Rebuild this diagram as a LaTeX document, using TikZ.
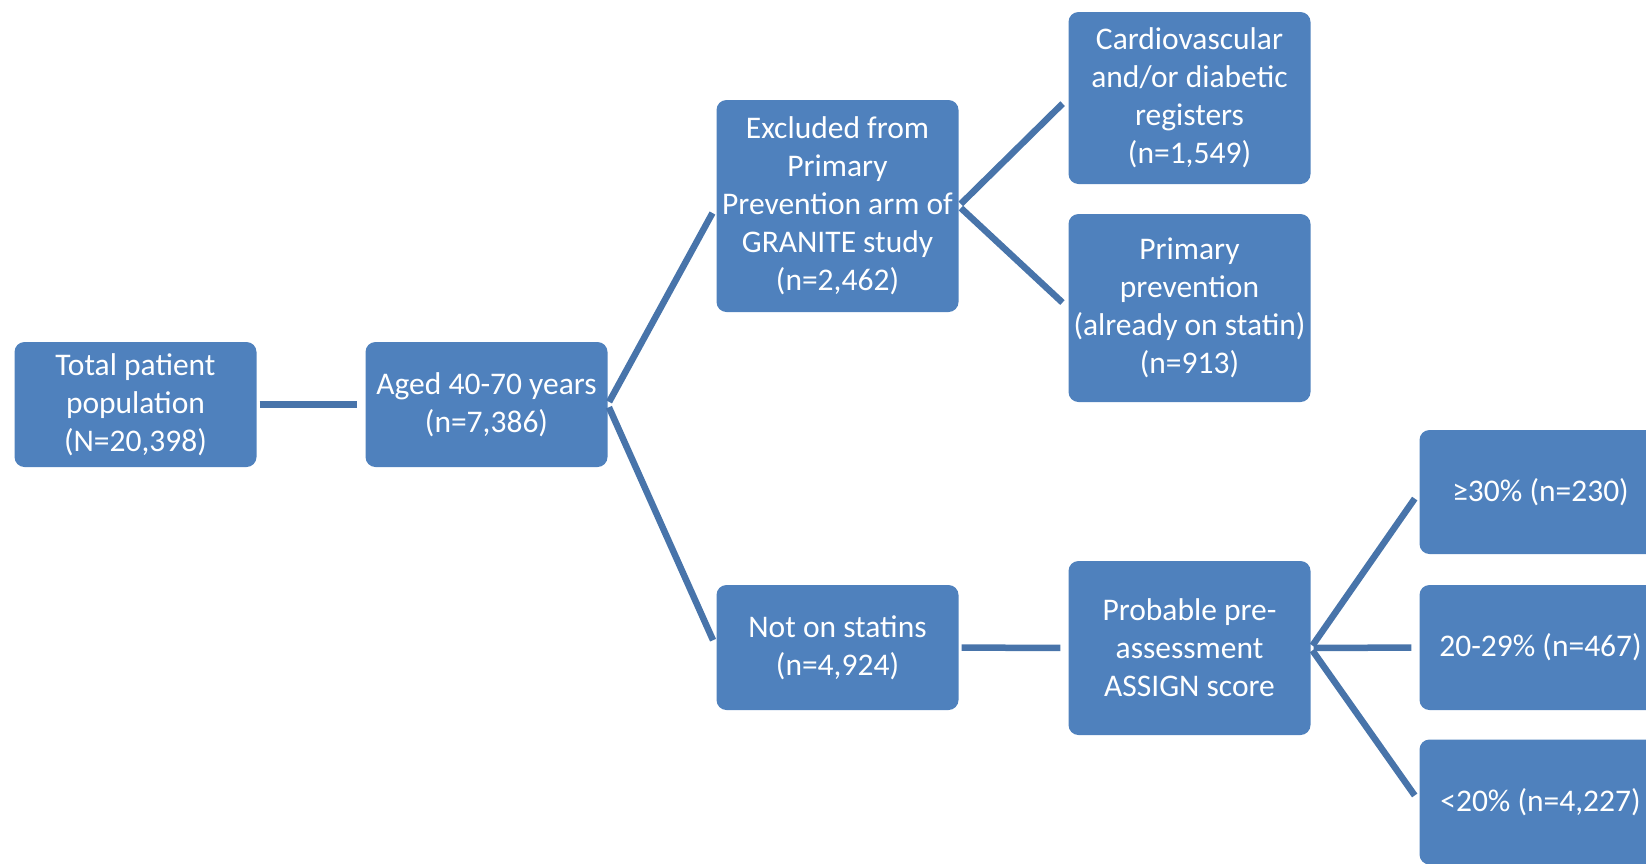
\documentclass[tikz,border=0pt]{standalone}
\usepackage{fontspec}
\setmainfont{Carlito}
\definecolor{boxblue}{RGB}{79,129,189}
\definecolor{lineblue}{RGB}{72,116,170}

\begin{document}
\begin{tikzpicture}
[x=1pt,y=-1pt
,box/.style={rectangle,rounded corners=10pt,fill=boxblue,text=white,minimum width=242pt,align=center,inner sep=2pt,font=\fontsize{31.5}{38}\selectfont}
,link/.style={draw=lineblue,line width=6.5pt,shorten <=3pt,shorten >=8pt}
]
\clip (0,0) rectangle (1646,863);
\node[box,minimum height=125pt] (total) at (135.5,404.5) {Total patient\\population\\(N=20,398)};
\node[box,minimum height=125pt] (aged) at (486.5,404.5) {Aged 40-70 years\\(n=7,386)};
\node[box,minimum height=212pt] (excl) at (837.5,206) {Excluded from\\Primary\\Prevention arm of\\GRANITE study\\(n=2,462)};
\node[box,minimum height=125pt] (notst) at (837.5,647.5) {Not on statins\\(n=4,924)};
\node[box,minimum height=172pt] (cvd) at (1189.5,98) {Cardiovascular\\and/or diabetic\\registers\\(n=1,549)};
\node[box,minimum height=188pt] (prim) at (1189.5,308) {Primary\\prevention\\(already on statin)\\(n=913)};
\node[box,minimum height=174pt] (assign) at (1189.5,648) {Probable pre-\\assessment\\ASSIGN score};
\node[box,minimum height=124pt] (hi) at (1540.5,492) {≥30\% (n=230)};
\node[box,minimum height=125pt] (mid) at (1540.5,647.5) {20-29\% (n=467)};
\node[box,minimum height=125pt] (lo) at (1540.5,802) {<20\% (n=4,227)};
\draw[link] (total) -- (aged);
\draw[link] (aged.east) -- (excl.west);
\draw[link] (aged.east) -- (notst.west);
\draw[link] (excl.east) -- (cvd.west);
\draw[link] (excl.east) -- (prim.west);
\draw[link] (notst) -- (assign);
\draw[link] (assign.east) -- (hi.west);
\draw[link] (assign.east) -- (mid.west);
\draw[link] (assign.east) -- (lo.west);
\end{tikzpicture}
\end{document}
